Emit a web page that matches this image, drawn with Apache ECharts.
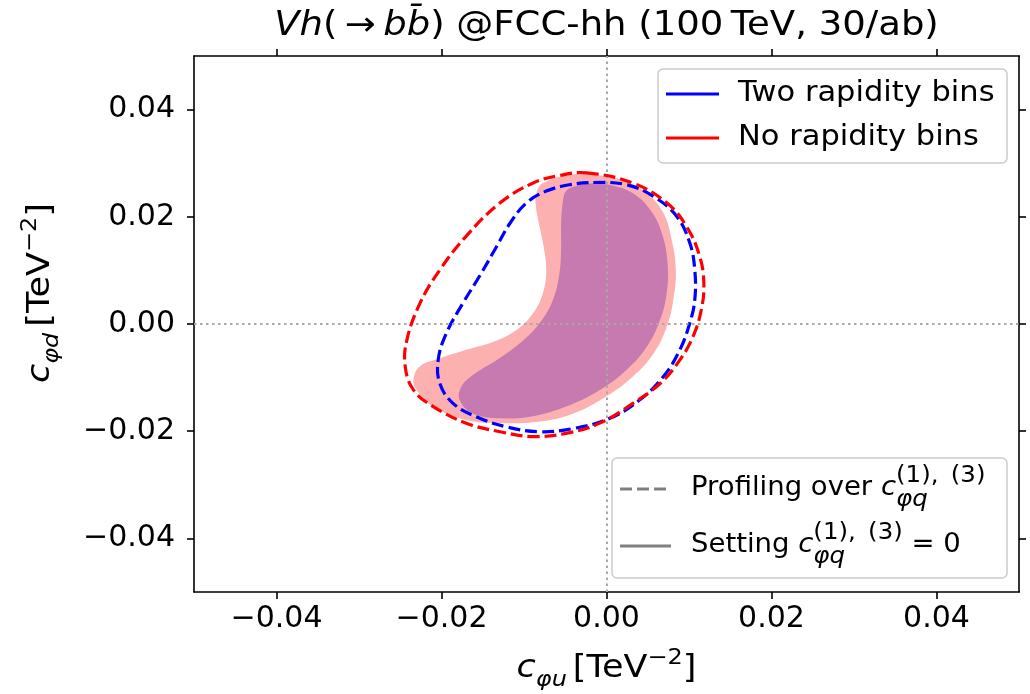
<!DOCTYPE html>
<html>
<head>
<meta charset="utf-8">
<script src="https://cdn.jsdelivr.net/npm/echarts@6/dist/echarts.min.js"></script>
<style>
  html, body { margin: 0; padding: 0; background: #fff; }
  #chart { width: 1030px; height: 694px; }
</style>
</head>
<body>
<div id="chart"></div>
<script>
// ---- data -----------------------------------------------------------------
const xRange = [-0.05, 0.05];
const yRange = [-0.05, 0.05];
const tickValues = [-0.04, -0.02, 0, 0.02, 0.04];
const tickLabels = ['\u22120.04', '\u22120.02', '0.00', '0.02', '0.04'];

const legendTop = ['Two rapidity bins', 'No rapidity bins'];

// 95% CL contours in the (c_phiu, c_phid) plane, [c_phiu, c_phid] pairs
const noBinsProfiled = [
  [-0.0024, 0.0282], [0.0032, 0.0263], [0.0073, 0.0226], [0.0097, 0.0182], [0.0113, 0.0126],
  [0.0118, 0.0076], [0.0115, 0.0027], [0.0105, -0.0023], [0.0089, -0.0067], [0.0065, -0.0111],
  [0.0032, -0.0148], [-0.0008, -0.0185], [-0.0049, -0.0204], [-0.0089, -0.0210], [-0.0129, -0.0201],
  [-0.0170, -0.0185], [-0.0210, -0.0154], [-0.0234, -0.0123], [-0.0244, -0.0079], [-0.0242, -0.0030],
  [-0.0226, 0.0039], [-0.0202, 0.0101], [-0.0170, 0.0164], [-0.0129, 0.0226], [-0.0089, 0.0263],
  [-0.0057, 0.0277]
];
const twoBinsProfiled = [
  [-0.0016, 0.0264], [0.0024, 0.0260], [0.0057, 0.0238], [0.0085, 0.0201], [0.0101, 0.0151],
  [0.0107, 0.0101], [0.0107, 0.0045], [0.0101, 0.0002], [0.0089, -0.0048], [0.0069, -0.0098],
  [0.0040, -0.0142], [0.0004, -0.0176], [-0.0040, -0.0195], [-0.0081, -0.0201], [-0.0121, -0.0192],
  [-0.0158, -0.0173], [-0.0186, -0.0148], [-0.0202, -0.0111], [-0.0204, -0.0067], [-0.0194, -0.0017],
  [-0.0174, 0.0039], [-0.0154, 0.0089], [-0.0133, 0.0145], [-0.0117, 0.0188], [-0.0097, 0.0226],
  [-0.0073, 0.0248], [-0.0044, 0.0260]
];
const noBinsFixed = [
  [-0.0085, 0.0244], [-0.0077, 0.0263], [-0.0040, 0.0279], [-0.0008, 0.0277], [0.0024, 0.0266],
  [0.0049, 0.0244], [0.0069, 0.0207], [0.0079, 0.0157], [0.0084, 0.0101], [0.0081, 0.0045],
  [0.0073, -0.0005], [0.0057, -0.0055], [0.0032, -0.0098], [0.0000, -0.0135], [-0.0040, -0.0167],
  [-0.0081, -0.0182], [-0.0129, -0.0185], [-0.0170, -0.0179], [-0.0210, -0.0154], [-0.0230, -0.0123],
  [-0.0234, -0.0104], [-0.0226, -0.0079], [-0.0202, -0.0064], [-0.0170, -0.0048], [-0.0137, -0.0033],
  [-0.0109, -0.0011], [-0.0089, 0.0020], [-0.0077, 0.0058], [-0.0073, 0.0101], [-0.0077, 0.0151],
  [-0.0083, 0.0195], [-0.0086, 0.0226]
];
const twoBinsFixed = [
  [-0.0053, 0.0226], [-0.0049, 0.0248], [-0.0036, 0.0258], [-0.0016, 0.0262], [0.0008, 0.0258],
  [0.0032, 0.0244], [0.0053, 0.0213], [0.0067, 0.0170], [0.0074, 0.0114], [0.0073, 0.0058],
  [0.0065, 0.0008], [0.0049, -0.0042], [0.0024, -0.0086], [-0.0008, -0.0123], [-0.0049, -0.0154],
  [-0.0089, -0.0172], [-0.0129, -0.0176], [-0.0162, -0.0167], [-0.0178, -0.0142], [-0.0176, -0.0117],
  [-0.0162, -0.0095], [-0.0133, -0.0067], [-0.0105, -0.0036], [-0.0081, 0.0002], [-0.0065, 0.0045],
  [-0.0057, 0.0095], [-0.0055, 0.0145], [-0.0055, 0.0188]
];

// ---- styling / helpers ----------------------------------------------------
const FONT = 'DejaVu Sans';
const FS_TICK = 30;
const BLUE = '#0000ff', RED = '#ff0000', GREY = '#808080';
const DASH = [12, 5];

const grid = { left: 194, right: 11, top: 56, bottom: 102 };

const measureCtx = document.createElement('canvas').getContext('2d');
function textWidth(t, size, italic) {
  measureCtx.font = (italic ? 'italic ' : '') + size + 'px "' + FONT + '"';
  return measureCtx.measureText(t).width;
}

// one text piece placed with its baseline at `base`; sy squashes glyph height
function piece(t, x, base, size, italic, sy) {
  sy = sy || 1;
  return {
    type: 'text', x: x, y: base - 0.32 * size * sy, scaleY: sy,
    style: {
      text: t, fill: '#000', font: (italic ? 'italic ' : '') + size + 'px "' + FONT + '"',
      align: 'left', verticalAlign: 'middle'
    }
  };
}

// lay out a run list: {t, size, it, dy} or {sup:{...}, sub:{...}} stacked at the same x
function mathRun(runs, x0, base, sy) {
  const els = [];
  let x = x0;
  runs.forEach(r => {
    if (r.sup || r.sub) {
      let w = 0;
      [r.sup, r.sub].forEach(s => {
        if (!s) return;
        els.push(piece(s.t, x + (s.dx || 0), base + s.dy, s.size, s.it, sy));
        w = Math.max(w, textWidth(s.t, s.size, s.it) + (s.dx || 0));
      });
      x += w;
    } else {
      els.push(piece(r.t, x + (r.dx || 0), base + (r.dy || 0), r.size, r.it, sy));
      x += textWidth(r.t, r.size, r.it) + (r.dx || 0);
    }
  });
  return { els: els, width: x - x0 };
}
function centredRun(runs, cx, base, sy) {
  const w = mathRun(runs, 0, base, sy).width;
  return mathRun(runs, cx - w / 2, base, sy).els;
}

function contourSeries(name, pts, style, z) {
  return {
    type: 'custom', name: name, coordinateSystem: 'cartesian2d', z: z, silent: true,
    data: pts, encode: { x: 0, y: 1 },
    renderItem: function (params, api) {
      if (params.dataIndex !== 0) return null;
      return {
        type: 'polygon',
        shape: { points: pts.map(p => api.coord(p)), smooth: 0.4 },
        style: Object.assign({}, style)
      };
    }
  };
}

function tickLabel(v) {
  const i = tickValues.findIndex(t => Math.abs(t - v) < 1e-9);
  return i >= 0 ? tickLabels[i] : '';
}

function valueAxis(range, pos, showLabels, margin) {
  return {
    type: 'value', min: range[0], max: range[1], position: pos,
    axisLine: { show: true, onZero: false, lineStyle: { color: '#000', width: 1.6 } },
    axisTick: { show: true, inside: false, length: 7, customValues: tickValues,
                lineStyle: { color: '#000', width: 1.6 } },
    axisLabel: { show: showLabels, customValues: tickValues, formatter: tickLabel,
                 color: '#000', fontFamily: FONT, fontSize: FS_TICK, margin: margin },
    splitLine: { show: false }
  };
}

// ---- text blocks -------------------------------------------------------------
const plotCx = grid.left + (1030 - grid.left - grid.right) / 2;

// axis titles: c_{phi x} [TeV^-2]
const NAME_FS = 35, NAME_SC = 24, NAME_SY = 0.9;
function axisNameRuns(flavour) {
  return [
    { t: 'c', size: NAME_FS, it: true },
    { t: '\u03c6' + flavour, size: NAME_SC, it: true, dy: 8 },
    { t: '[TeV', size: NAME_FS, dx: 6 },
    { t: '\u22122', size: NAME_SC, dy: -14 },
    { t: ']', size: NAME_FS }
  ];
}
const xNameEls = centredRun(axisNameRuns('u'), plotCx, 679, NAME_SY);
const yNameEls = centredRun(axisNameRuns('d'), 0, 0, NAME_SY);

// lower legend labels
const LG_FS = 30.5, LG2_FS = 27.5, LG_SC = 24.5, LG_SY = 0.95;
const supText = { t: '(1),\u2002(3)', size: LG_SC, dy: -14 };
const subText = { t: '\u03c6q', size: LG_SC, it: true, dy: 10 };
const legendBottom1 = mathRun([
  { t: 'Profiling over ', size: LG2_FS },
  { t: 'c', size: LG2_FS, it: true },
  { sup: supText, sub: subText }
], 691, 497, LG_SY).els;
const legendBottom2 = mathRun([
  { t: 'Setting ', size: LG2_FS },
  { t: 'c', size: LG2_FS, it: true },
  { sup: supText, sub: subText },
  { t: ' = 0', size: LG2_FS }
], 691, 554, LG_SY).els;

const legendBox = (x, y, w, h) => ({
  type: 'rect', shape: { x: x, y: y, width: w, height: h, r: 5 },
  style: { fill: 'rgba(255,255,255,0.8)', stroke: '#cccccc', lineWidth: 1.5 }
});
const legendLine = (x1, x2, y, color, dash) => ({
  type: 'line', shape: { x1: x1, y1: y, x2: x2, y2: y },
  style: { stroke: color, lineWidth: 3, lineDash: dash || null }
});

const TITLE_FS = 37, TITLE_SY = 0.9;

const chart = echarts.init(document.getElementById('chart'), null, { renderer: 'canvas' });
chart.setOption({
  backgroundColor: '#fff',
  animation: false,
  grid: Object.assign({ containLabel: false }, grid),
  xAxis: [valueAxis(xRange, 'bottom', true, 12), valueAxis(xRange, 'top', false, 8)],
  yAxis: [valueAxis(yRange, 'left', true, 19), valueAxis(yRange, 'right', false, 8)],
  series: [
    contourSeries('No rapidity bins, c=0', noBinsFixed, { fill: '#fcb0b0', stroke: null }, 1),
    contourSeries('Two rapidity bins, c=0', twoBinsFixed, { fill: '#c77ab0', stroke: null }, 2),
    {
      type: 'line', name: 'zero lines', data: [], z: 3, silent: true,
      markLine: {
        silent: true, symbol: 'none', label: { show: false }, animation: false,
        lineStyle: { color: '#a8a8a8', width: 2, type: [2.5, 3.5] },
        emphasis: { disabled: true },
        data: [{ xAxis: 0 }, { yAxis: 0 }]
      }
    },
    contourSeries('Two rapidity bins, profiled', twoBinsProfiled,
      { fill: 'none', stroke: BLUE, lineWidth: 3.2, lineDash: DASH }, 4),
    contourSeries('No rapidity bins, profiled', noBinsProfiled,
      { fill: 'none', stroke: RED, lineWidth: 3.2, lineDash: DASH }, 5)
  ],
  graphic: [
    {
      type: 'text', x: plotCx, y: 37.5 - 0.32 * TITLE_FS * TITLE_SY, scaleY: TITLE_SY, z: 10,
      style: {
        text: '{i|Vh}(\u2009\u2192\u2009{i|b}{i|b\u0304}) @FCC-hh (100\u2009TeV, 30/ab)',
        align: 'center', verticalAlign: 'middle', fill: '#000',
        font: TITLE_FS + 'px "' + FONT + '"',
        rich: { i: { fontStyle: 'italic', fontFamily: FONT, fontSize: TITLE_FS, fill: '#000' } }
      }
    },
    { type: 'group', z: 10, children: xNameEls },
    { type: 'group', z: 10, x: 51, y: 293, rotation: Math.PI / 2, children: yNameEls },
    // upper legend: colour = binning
    {
      type: 'group', z: 20, children: [
        legendBox(658, 69, 349, 94),
        legendLine(666, 719, 94, BLUE),
        legendLine(666, 719, 138, RED),
        piece(legendTop[0], 738, 103, LG_FS, false, LG_SY),
        piece(legendTop[1], 738, 147, LG_FS, false, LG_SY)
      ]
    },
    // lower legend: line style = treatment of c_phiq
    {
      type: 'group', z: 20, children: [
        legendBox(612, 458, 395, 120),
        legendLine(620, 671, 489, GREY, DASH),
        legendLine(620, 671, 546, GREY)
      ].concat(legendBottom1, legendBottom2)
    }
  ]
});
</script>
</body>
</html>
